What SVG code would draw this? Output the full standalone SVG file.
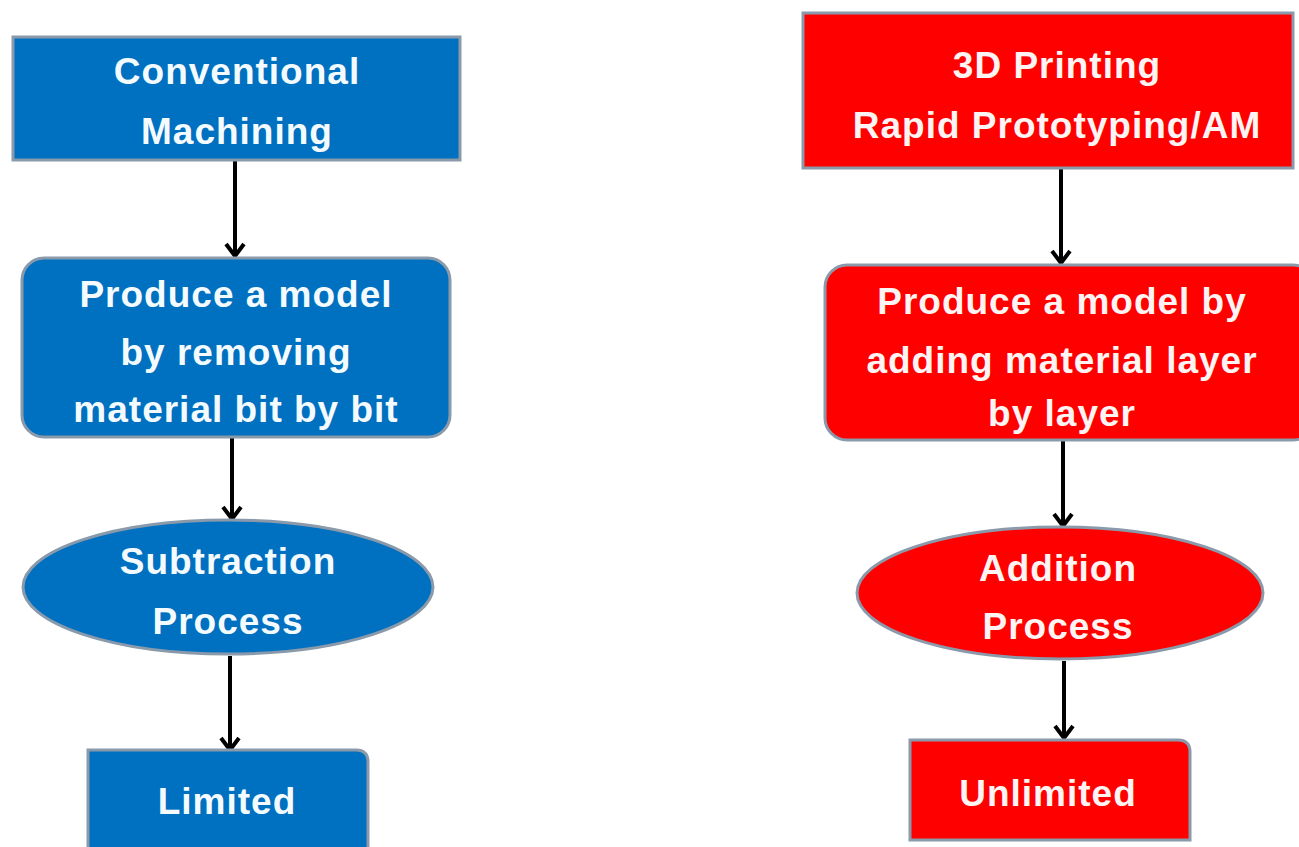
<svg xmlns="http://www.w3.org/2000/svg" width="1299" height="847" viewBox="0 0 1299 847">
<defs>
<style>
.blue{fill:#0070C0;stroke:#8a9aab;stroke-width:3}
.red{fill:#FF0000;stroke:#8a9aab;stroke-width:3}
.t{font-family:"Liberation Sans",Arial,sans-serif;font-weight:bold;font-size:37px;letter-spacing:1px;fill:#f4fbff;text-anchor:middle}
.rt{fill:#fff4f4}
.c{stroke:#000;stroke-width:4;fill:none}
</style>
<marker id="ah" markerWidth="20" markerHeight="22" viewBox="0 0 20 22" refX="17" refY="11" orient="auto" markerUnits="userSpaceOnUse">
<path d="M5,2 L17,11 L5,20" fill="none" stroke="#000" stroke-width="4"/>
</marker>
</defs>
<rect width="1299" height="847" fill="#ffffff"/>
<g id="connectors">
<line class="c" x1="235" y1="161" x2="235" y2="256" marker-end="url(#ah)"/>
<line class="c" x1="232" y1="438" x2="232" y2="519" marker-end="url(#ah)"/>
<line class="c" x1="230" y1="656" x2="230" y2="750" marker-end="url(#ah)"/>
<line class="c" x1="1061" y1="169" x2="1061" y2="263" marker-end="url(#ah)"/>
<line class="c" x1="1063" y1="441" x2="1063" y2="526" marker-end="url(#ah)"/>
<line class="c" x1="1064" y1="661" x2="1064" y2="738" marker-end="url(#ah)"/>
</g>
<g id="conventional">
<rect class="blue" x="13" y="37" width="447" height="123"/>
<text class="t" x="237" y="84">Conventional</text>
<text class="t" x="237" y="144">Machining</text>
</g>
<g id="produce-remove">
<rect class="blue" x="22" y="258" width="428" height="179" rx="22"/>
<text class="t" x="236" y="307">Produce a model</text>
<text class="t" x="236" y="365">by removing</text>
<text class="t" x="236" y="422">material bit by bit</text>
</g>
<g id="subtraction">
<ellipse class="blue" cx="228" cy="587" rx="205" ry="67"/>
<text class="t" x="228" y="574">Subtraction</text>
<text class="t" x="228" y="634">Process</text>
</g>
<g id="limited">
<path class="blue" d="M88,750 H356 Q368,750 368,762 V850 H88 Z"/>
<text class="t" x="227" y="814">Limited</text>
</g>
<g id="printing">
<rect class="red" x="803" y="13" width="490" height="155"/>
<text class="t rt" x="1057" y="78">3D Printing</text>
<text class="t rt" x="1057" y="138">Rapid Prototyping/AM</text>
</g>
<g id="produce-add">
<rect class="red" x="825" y="265" width="490" height="175" rx="22"/>
<text class="t rt" x="1062" y="314">Produce a model by</text>
<text class="t rt" x="1062" y="373">adding material layer</text>
<text class="t rt" x="1062" y="426">by layer</text>
</g>
<g id="addition">
<ellipse class="red" cx="1060" cy="593" rx="203" ry="66"/>
<text class="t rt" x="1058" y="581">Addition</text>
<text class="t rt" x="1058" y="639">Process</text>
</g>
<g id="unlimited">
<path class="red" d="M910,740 H1178 Q1190,740 1190,752 V840 H910 Z"/>
<text class="t rt" x="1048" y="806">Unlimited</text>
</g>
</svg>
